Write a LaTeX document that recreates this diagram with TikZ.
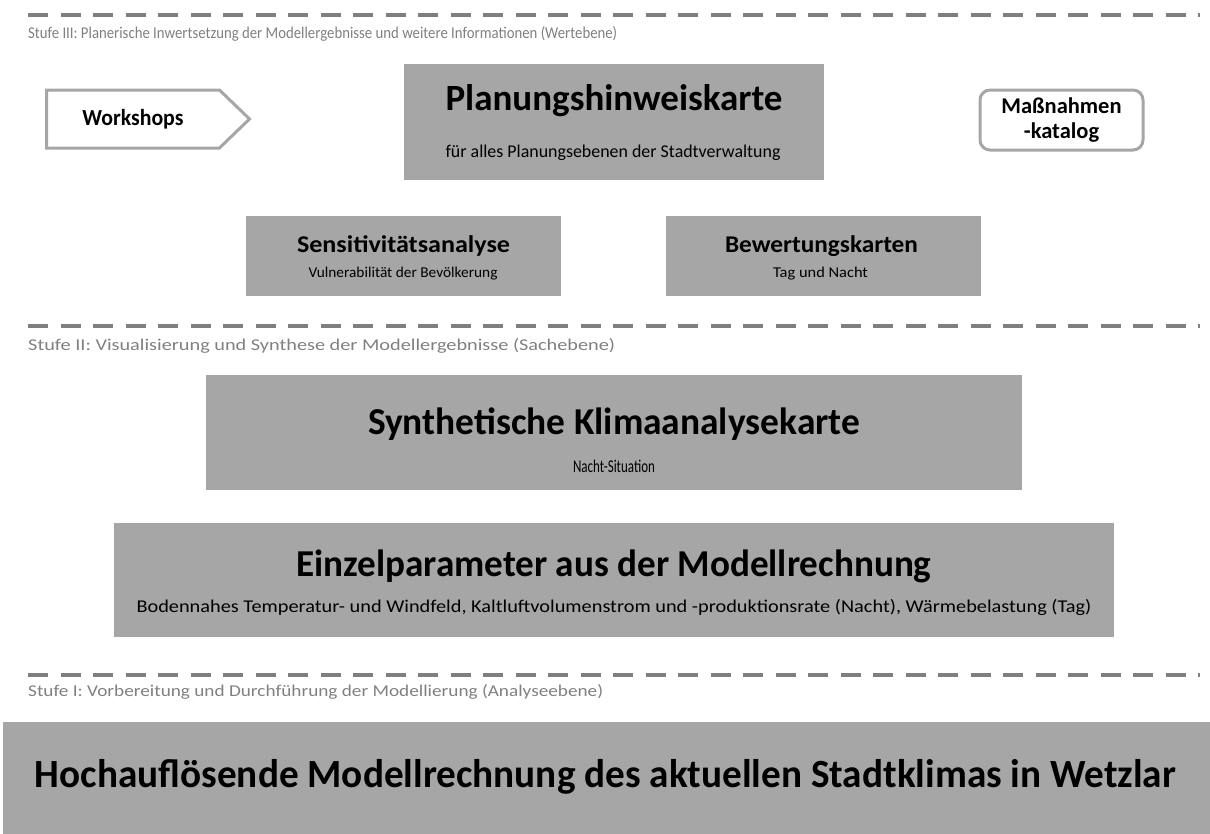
\documentclass[tikz,border=0pt]{standalone}
\usepackage{fontspec}
\setmainfont{Carlito}
\usepackage{graphicx}
\usetikzlibrary{shapes.symbols}
\definecolor{boxgray}{HTML}{A6A6A6}
\definecolor{linegray}{HTML}{7F7F7F}
\definecolor{edgegray}{HTML}{A6A6A6}
\definecolor{labelgray}{HTML}{808080}
\newlength\fitlen
\newcommand\fitw[2]{\settowidth\fitlen{#2}\scalebox{\fpeval{(#1)/(\the\fitlen)}}[1]{#2}}
\begin{document}
\begin{tikzpicture}[x=1pt,y=-1pt,
  graybox/.style={fill=boxgray, draw=none, inner sep=0pt},
  dashline/.style={draw=linegray, line width=4pt, dash pattern=on 20pt off 12.5pt},
  stufe/.style={text=labelgray, font=\fontsize{16.5}{19}\selectfont, inner sep=0pt, anchor=west},
  bigtitle/.style={font=\fontsize{38}{42}\bfseries\selectfont, inner sep=0pt},
  midtitle/.style={font=\fontsize{24}{28}\bfseries\selectfont, inner sep=0pt},
  subtext/.style={font=\fontsize{18}{21}\selectfont, inner sep=0pt},
  smalltext/.style={font=\fontsize{15}{18}\selectfont, inner sep=0pt},
  sidebox/.style={draw=edgegray, fill=white, line width=3pt, font=\fontsize{22.5}{25}\bfseries\selectfont, align=center, inner sep=0pt}
]
\useasboundingbox (0,0) rectangle (1210,833);

% dashed level separators
\coordinate (d3a) at (28,15);  \coordinate (d3b) at (1200,15);
\coordinate (d2a) at (28,326); \coordinate (d2b) at (1200,326);
\coordinate (d1a) at (28,675); \coordinate (d1b) at (1200,675);
\draw[dashline] (d3a) -- (d3b);
\draw[dashline] (d2a) -- (d2b);
\draw[dashline] (d1a) -- (d1b);

\node[stufe] (s3) at (28,34) {\fitw{589pt}{Stufe III: Planerische Inwertsetzung der Modellergebnisse und weitere Informationen (Wertebene)}};
\node[stufe] (s2) at (28,346) {\fitw{587pt}{Stufe II: Visualisierung und Synthese der Modellergebnisse (Sachebene)}};
\node[stufe] (s1) at (28,692) {\fitw{575pt}{Stufe I: Vorbereitung und Durchführung der Modellierung (Analyseebene)}};

% Stufe III
\node[signal, signal to=east, signal pointer angle=88, draw=edgegray, fill=white, line width=3pt,
      minimum width=203pt, minimum height=58pt, inner sep=0pt, anchor=west,
      font=\fontsize{23}{26}\bfseries\selectfont] (ws) at (45,119) {\fitw{101pt}{Workshops}};

\node[graybox, minimum width=420pt, minimum height=116pt] (phk) at (614,122) {};
\node[font=\fontsize{37}{42}\bfseries\selectfont, inner sep=0pt] (phkt) at (614,101) {\fitw{337pt}{Planungshinweiskarte}};
\node[font=\fontsize{18}{21}\selectfont, inner sep=0pt] (phks) at (613,153) {\fitw{335pt}{für alles Planungsebenen der Stadtverwaltung}};

\node[sidebox, rounded corners=10pt, minimum width=163pt, minimum height=60pt] (mk) at (1061.5,120) {Maßnahmen\\-katalog};

\node[graybox, minimum width=315pt, minimum height=80pt] (sa) at (403.5,256) {};
\node[midtitle] (sat) at (403.5,246) {\fitw{213pt}{Sensitivitätsanalyse}};
\node[smalltext] (sas) at (403,274) {\fitw{189pt}{Vulnerabilität der Bevölkerung}};

\node[graybox, minimum width=315pt, minimum height=80pt] (bk) at (823.5,256) {};
\node[midtitle] (bkt) at (821.5,246) {\fitw{193pt}{Bewertungskarten}};
\node[smalltext] (bks) at (820.5,274) {\fitw{95pt}{Tag und Nacht}};

% Stufe II
\node[graybox, minimum width=816pt, minimum height=115pt] (sk) at (614,432.5) {};
\node[bigtitle] (skt) at (614,424) {\fitw{492pt}{Synthetische Klimaanalysekarte}};
\node[subtext] (sks) at (614,466) {\fitw{82pt}{Nacht-Situation}};

\node[graybox, minimum width=1000pt, minimum height=114pt] (ep) at (614,580) {};
\node[bigtitle] (ept) at (614,566) {\fitw{635pt}{Einzelparameter aus der Modellrechnung}};
\node[subtext] (eps) at (614,607) {\fitw{955pt}{Bodennahes Temperatur- und Windfeld, Kaltluftvolumenstrom und -produktionsrate (Nacht), Wärmebelastung (Tag)}};

% Stufe I
\node[graybox, minimum width=1207pt, minimum height=112pt] (mr) at (606.5,778) {};
\node[font=\fontsize{40}{44}\bfseries\selectfont, inner sep=0pt] (mrt) at (605.5,777) {\fitw{1141pt}{Hochauflösende Modellrechnung des aktuellen Stadtklimas in Wetzlar}};
\end{tikzpicture}
\end{document}
